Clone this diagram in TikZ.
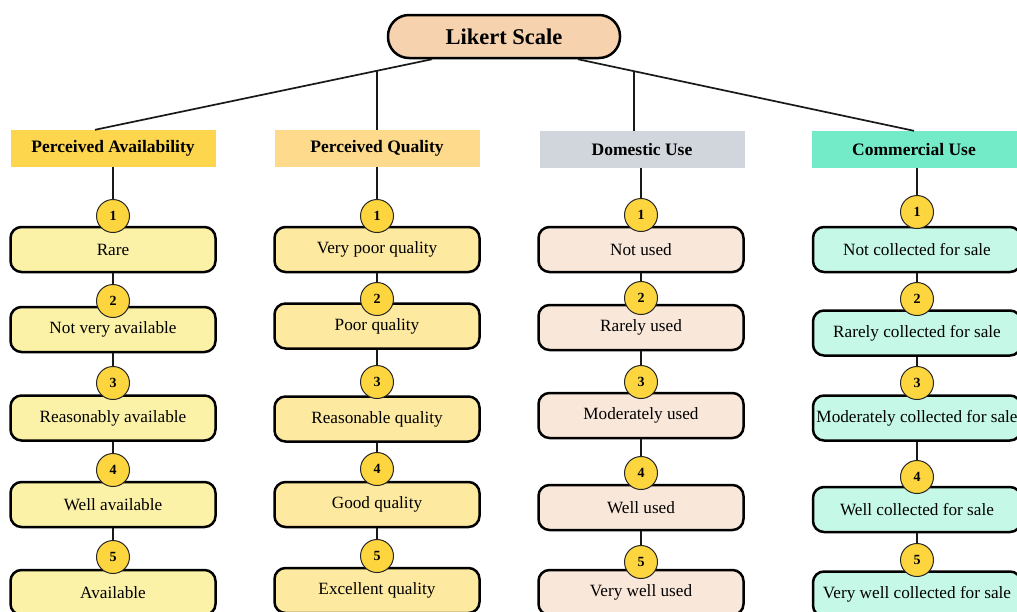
\documentclass[tikz,border=0pt]{standalone}
\usepackage{fontspec}
\setmainfont{Liberation Serif}
\definecolor{titlefill}{HTML}{F6D3AE}
\definecolor{availhead}{HTML}{FDD64E}
\definecolor{qualhead}{HTML}{FDDA8C}
\definecolor{domhead}{HTML}{D1D5DC}
\definecolor{comhead}{HTML}{74EBC8}
\definecolor{availfill}{HTML}{FBF2A8}
\definecolor{qualfill}{HTML}{FDE9A0}
\definecolor{domfill}{HTML}{F9E7DA}
\definecolor{comfill}{HTML}{C5F8E7}
\definecolor{numfill}{HTML}{FCD53F}
\begin{document}
\begin{tikzpicture}[x=1pt, y=-1pt,
    head/.style={rectangle, minimum width=205pt, minimum height=37pt,
      inner sep=0pt, font=\fontsize{17.5}{20}\selectfont\bfseries},
    item/.style={rectangle, rounded corners=11pt, draw=black, line width=2.5pt,
      minimum width=205pt, minimum height=45pt, inner sep=0pt,
      font=\fontsize{17.2}{20}\selectfont},
    num/.style={circle, draw=black!85, line width=1pt, fill=numfill,
      minimum size=33pt, inner sep=0pt, font=\fontsize{14}{16}\selectfont\bfseries},
    link/.style={draw=black!90, line width=1.7pt}]
    \useasboundingbox (0,0) rectangle (1017,611);
    \clip (0,0) rectangle (1017,611);

    % Title
    \node[rectangle, rounded corners=21pt, draw=black, line width=2.5pt,
      fill=titlefill, minimum width=232pt, minimum height=43pt,
      font=\fontsize{22.5}{26}\selectfont\bfseries]
      (title) at (504,36.5) {Likert Scale};

    % Headers
    \node[head, fill=availhead] (avail) at (113,148.5) {Perceived Availability};
    \node[head, fill=qualhead] (quality) at (377,148.5) {Perceived Quality};
    \node[head, fill=domhead] (domestic) at (642,149.5) {Domestic Use};
    \node[head, fill=comhead] (commercial) at (914,149.5) {Commercial Use};

    % Perceived availability
    \node[item, fill=availfill] (a1) at (113,249.5) {Rare};
    \node[item, fill=availfill] (a2) at (113,329.5) {Not very available};
    \node[item, fill=availfill] (a3) at (113,418) {Reasonably available};
    \node[item, fill=availfill] (a4) at (113,504.5) {Well available};
    \node[item, fill=availfill] (a5) at (113,592.5) {Available};
    \node[num] (na1) at (113,216) {1};
    \node[num] (na2) at (113,301) {2};
    \node[num] (na3) at (113,383) {3};
    \node[num] (na4) at (113,470) {4};
    \node[num] (na5) at (113,557) {5};

    % Perceived quality
    \node[item, fill=qualfill] (q1) at (377,249.5) {Very poor quality};
    \node[item, fill=qualfill] (q2) at (377,326) {Poor quality};
    \node[item, fill=qualfill] (q3) at (377,419) {Reasonable quality};
    \node[item, fill=qualfill] (q4) at (377,504.5) {Good quality};
    \node[item, fill=qualfill] (q5) at (377,590.5) {Excellent quality};
    \node[num] (nq1) at (377,216) {1};
    \node[num] (nq2) at (377,299) {2};
    \node[num] (nq3) at (377,382) {3};
    \node[num] (nq4) at (377,469) {4};
    \node[num] (nq5) at (377,556) {5};

    % Domestic use
    \node[item, fill=domfill] (d1) at (641,249.5) {Not used};
    \node[item, fill=domfill] (d2) at (641,327.5) {Rarely used};
    \node[item, fill=domfill] (d3) at (641,415.5) {Moderately used};
    \node[item, fill=domfill] (d4) at (641,507.5) {Well used};
    \node[item, fill=domfill] (d5) at (641,592.5) {Very well used};
    \node[num] (nd1) at (641,215) {1};
    \node[num] (nd2) at (641,298) {2};
    \node[num] (nd3) at (641,382) {3};
    \node[num] (nd4) at (641,473) {4};
    \node[num] (nd5) at (641,562) {5};

    % Commercial use
    \node[item, fill=comfill, minimum width=208pt] (c1) at (917,249.5) {Not collected for sale};
    \node[item, fill=comfill, minimum width=208pt] (c2) at (917,333) {Rarely collected for sale};
    \node[item, fill=comfill, minimum width=208pt] (c3) at (917,418) {Moderately collected for sale};
    \node[item, fill=comfill, minimum width=208pt] (c4) at (917,509.5) {Well collected for sale};
    \node[item, fill=comfill, minimum width=208pt] (c5) at (917,594) {Very well collected for sale};
    \node[num] (nc1) at (917,212) {1};
    \node[num] (nc2) at (917,299) {2};
    \node[num] (nc3) at (917,383) {3};
    \node[num] (nc4) at (917,477) {4};
    \node[num] (nc5) at (917,560) {5};

    % Title to headers
    \coordinate (tl) at ([xshift=-72pt]title.south);
    \coordinate (tr) at ([xshift=74pt]title.south);
    \draw[link] (tl) -- coordinate[pos=0.163] (ql) ([xshift=-18pt]avail.north);
    \draw[link] (ql) -- (ql |- quality.north);
    \draw[link] (tr) -- coordinate[pos=0.167] (dl) (commercial.north);
    \draw[link] (dl) -- (dl |- domestic.north);

    % Headers to first step
    \draw[link] (avail.south -| na1) -- (na1);
    \draw[link] (quality.south -| nq1) -- (nq1);
    \draw[link] (domestic.south -| nd1) -- (nd1);
    \draw[link] (commercial.south -| nc1) -- (nc1);

    % Steps
    \draw[link] (a1) -- (na2) (a2) -- (na3) (a3) -- (na4) (a4) -- (na5);
    \draw[link] (q1) -- (nq2) (q2) -- (nq3) (q3) -- (nq4) (q4) -- (nq5);
    \draw[link] (d1) -- (nd2) (d2) -- (nd3) (d3) -- (nd4) (d4) -- (nd5);
    \draw[link] (c1) -- (nc2) (c2) -- (nc3) (c3) -- (nc4) (c4) -- (nc5);
  \end{tikzpicture}
\end{document}
